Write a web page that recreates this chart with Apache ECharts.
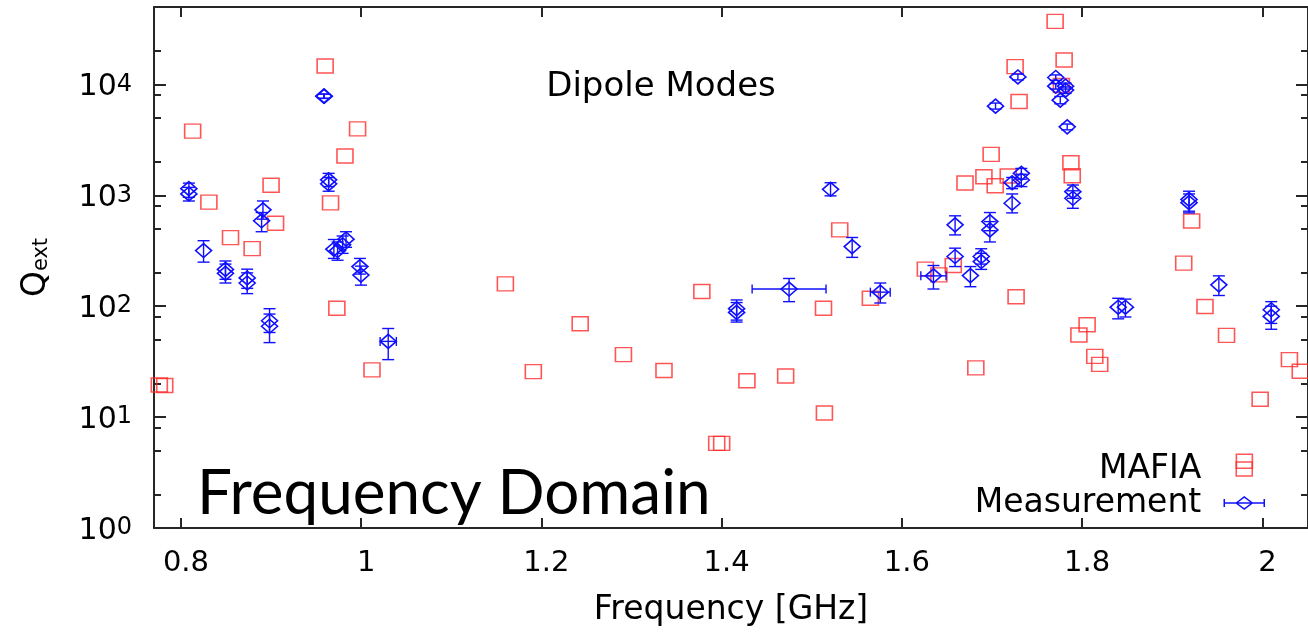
<!DOCTYPE html>
<html>
<head>
<meta charset="utf-8">
<script src="https://cdn.jsdelivr.net/npm/echarts@6/dist/echarts.min.js"></script>
<style>
html,body{margin:0;padding:0;background:#fff;}
#chart{width:1308px;height:632px;}
</style>
</head>
<body>
<div id="chart"></div>
<script>
// ---------------- DATA ----------------
const mafiaFreq = [0.776, 0.782, 0.813, 0.831, 0.855, 0.879, 0.900, 0.905, 0.960, 0.966, 0.973, 0.982, 0.996, 1.012,
  1.160, 1.191, 1.243, 1.291, 1.336, 1.378, 1.3945, 1.400, 1.428, 1.471, 1.513, 1.514, 1.531, 1.565,
  1.626, 1.641, 1.657, 1.670, 1.682, 1.691, 1.699, 1.7035, 1.718, 1.7256, 1.7267, 1.730, 1.770, 1.777, 1.780,
  1.7875, 1.789, 1.7964, 1.8055, 1.814, 1.8195, 1.9127, 1.9215, 1.9363, 1.9602, 1.980, 1.9975, 2.030, 2.042];
const mafiaQ = [19.5, 19.3, 3800, 870, 416, 331, 1233, 561, 14700, 855, 96, 2263, 3980, 26.7,
  159, 25.7, 69.6, 36.6, 26.3, 136, 5.8, 5.8, 21.3, 23.5, 96, 10.9, 488, 118,
  216, 192, 233, 1294, 27.8, 1473, 2344, 1222, 1496, 14500, 122, 7030, 37100, 9800, 16650,
  1968, 1504, 55, 68.2, 35.3, 29.9, 245, 588, 99.6, 54.6, 4.0, 14.5, 33, 25.9];

const measFreq = [0.8088, 0.8088, 0.8251, 0.8494, 0.8494, 0.8735, 0.8735, 0.891, 0.8895, 0.8983, 0.8983,
  0.9585, 0.9591, 0.9639, 0.9639, 0.9697, 0.9738, 0.9794, 0.9832, 0.9986, 0.9997, 1.030,
  1.4166, 1.4166, 1.4748, 1.5208, 1.5448, 1.576, 1.635, 1.659, 1.659, 1.676, 1.688, 1.688,
  1.6976, 1.6976, 1.7039, 1.7223, 1.7223, 1.7325, 1.7325, 1.7287, 1.7707, 1.7707, 1.7816, 1.7816,
  1.7757, 1.7834, 1.7897, 1.7897, 1.840, 1.848, 1.9186, 1.9186, 1.9517, 2.0098, 2.0098];
const measQ = [1150, 1030, 318, 215, 198, 180, 162, 740, 590, 74, 66,
  7850, 7850, 1380, 1270, 327, 318, 358, 403, 228, 191, 48.2,
  95, 88, 143, 1135, 345, 134, 188, 542, 281, 189, 281, 253,
  580, 488, 6380, 849, 1301, 1580, 1376, 11700, 11560, 9660, 9660, 8900,
  7220, 4150, 1080, 942, 98, 98, 920, 860, 156, 93, 81];
const measQlo = [960, 890, 250, 175, 162, 145, 130, 610, 470, 58, 47,
  7500, 7500, 1200, 1090, 270, 260, 300, 340, 195, 155, 33,
  75, 72, 110, 990, 276, 107, 143, 440, 228, 150, 240, 215,
  480, 380, 6000, 695, 1150, 1400, 1200, 11000, 10900, 9100, 9100, 8300,
  6700, 3900, 940, 765, 77, 80, 720, 695, 125, 70, 62];
const measQhi = [1290, 1180, 390, 256, 240, 216, 200, 890, 700, 95, 85,
  8200, 8200, 1580, 1450, 400, 380, 430, 470, 270, 230, 63,
  114, 108, 178, 1300, 417, 162, 233, 654, 334, 228, 330, 300,
  700, 580, 6800, 1030, 1450, 1750, 1550, 12400, 12200, 10200, 10300, 9500,
  7800, 4400, 1240, 1100, 118, 116, 1090, 1030, 188, 110, 100];
const measFerr = [0, 0, 0, 0, 0, 0, 0, 0, 0, 0, 0,
  0, 0, 0, 0, 0, 0, 0, 0, 0, 0, 0.009,
  0, 0, 0.041, 0, 0, 0.011, 0.014, 0, 0, 0, 0, 0,
  0, 0, 0, 0, 0, 0, 0, 0, 0, 0, 0, 0,
  0, 0, 0, 0, 0, 0, 0, 0, 0, 0, 0];

const xTickValues = [0.8, 1.0, 1.2, 1.4, 1.6, 1.8, 2.0];
const xTickLabels = ['0.8', '1', '1.2', '1.4', '1.6', '1.8', '2'];
const yDecades = [0, 1, 2, 3, 4];
const yMinorMantissas = [2, 5, 8];

// ---------------- SETUP ----------------
const RED = '#ff2a2a';
const BLUE = '#1010ff';
const FONT = 'DejaVu Sans';
const X_MIN = 0.7701, X_MAX = 2.0506;
const Y_MIN = 1, Y_MAX = 5e4;
const LOG_MAX = Math.log10(Y_MAX);

const yMinorLogs = [];
yDecades.forEach(d => yMinorMantissas.forEach(m => {
  const v = d + Math.log10(m);
  if (v < LOG_MAX - 0.01) yMinorLogs.push(v);
}));

const mafiaData = mafiaFreq.map((f, i) => [f, mafiaQ[i]]);
const measData = measFreq.map((f, i) => [f, measQ[i], measQlo[i], measQhi[i], f - measFerr[i], f + measFerr[i]]);

const AXIS_COLOR = '#262626';

function frameY(position, len, values, showLine, labels) {
  return {
    type: 'value', position: position, min: 0, max: LOG_MAX,
    gridIndex: 0,
    axisLine: { show: showLine, lineStyle: { color: AXIS_COLOR, width: 2 } },
    axisTick: { show: true, inside: true, length: len, customValues: values,
      lineStyle: { color: AXIS_COLOR, width: 2 } },
    axisLabel: labels ? {
      show: true, customValues: values, margin: 22,
      padding: [6, 0, 0, 0],
      formatter: v => '{b|10}{s|' + Math.round(v) + '}',
      rich: {
        b: { fontFamily: FONT, fontSize: 30, color: '#000', lineHeight: 30 },
        s: { fontFamily: FONT, fontSize: 24, color: '#000', lineHeight: 14, verticalAlign: 'top' }
      }
    } : { show: false },
    splitLine: { show: false }
  };
}

const chart = echarts.init(document.getElementById('chart'), null, { renderer: 'canvas' });

const option = {
  animation: false,
  backgroundColor: '#fff',
  grid: { left: 154, top: 7, right: -3, bottom: 103.3, containLabel: false },
  xAxis: [
    {
      type: 'value', position: 'bottom', min: X_MIN, max: X_MAX,
      axisLine: { show: true, onZero: false, lineStyle: { color: AXIS_COLOR, width: 2 } },
      axisTick: { show: true, inside: true, length: 10, customValues: xTickValues,
        lineStyle: { color: AXIS_COLOR, width: 2 } },
      axisLabel: { show: true, customValues: xTickValues, margin: 21, padding: [0, 0, 0, 10],
        fontFamily: FONT, fontSize: 29, color: '#000',
        formatter: v => { const i = xTickValues.findIndex(t => Math.abs(t - v) < 1e-6); return i >= 0 ? xTickLabels[i] : ''; } },
      splitLine: { show: false },
      name: 'Frequency [GHz]', nameLocation: 'middle', nameGap: 66,
      nameTextStyle: { fontFamily: FONT, fontSize: 33, color: '#000' }
    },
    {
      type: 'value', position: 'top', min: X_MIN, max: X_MAX,
      axisLine: { show: true, onZero: false, lineStyle: { color: AXIS_COLOR, width: 2 } },
      axisTick: { show: true, inside: true, length: 10, customValues: xTickValues,
        lineStyle: { color: AXIS_COLOR, width: 2 } },
      axisLabel: { show: false },
      splitLine: { show: false }
    }
  ],
  yAxis: [
    { type: 'log', min: Y_MIN, max: Y_MAX, logBase: 10, show: false },
    Object.assign(frameY('left', 12, yDecades, true, true), {
      name: '{q|Q}{e|ext}', nameLocation: 'middle', nameRotate: 90, nameGap: 102,
      nameTextStyle: { rich: {
        q: { fontFamily: FONT, fontSize: 33, color: '#000', lineHeight: 32 },
        e: { fontFamily: FONT, fontSize: 21, color: '#000', lineHeight: 14, verticalAlign: 'bottom' }
      } }
    }),
    frameY('left', 7, yMinorLogs, false, false),
    frameY('right', 12, yDecades, true, false),
    frameY('right', 7, yMinorLogs, false, false)
  ],
  legend: {
    orient: 'vertical', right: 43, top: 452, padding: 0, itemGap: 0,
    itemWidth: 40, itemHeight: 14, align: 'right',
    selectedMode: false,
    textStyle: { fontFamily: FONT, fontSize: 33, color: '#000', lineHeight: 34, padding: [0, 18, 0, 0] },
    data: [
      { name: 'MAFIA', icon: 'path://M0,0M40,14M12,0L28,0L28,14L12,14Z',
        itemStyle: { color: 'rgba(0,0,0,0)', borderColor: RED, borderWidth: 1.5 } },
      { name: 'Measurement', icon: 'path://M0,0M40,14M0,7L40,7M0,3L0,11M40,3L40,11M12,7L20,1L28,7L20,13Z',
        itemStyle: { color: 'rgba(0,0,0,0)', borderColor: BLUE, borderWidth: 1.5 } }
    ]
  },
  graphic: [
    { type: 'text', x: 661, y: 87, silent: true,
      style: { text: 'Dipole Modes', fill: '#000', font: '34px "DejaVu Sans"', align: 'center', verticalAlign: 'middle' } },
    { type: 'text', x: 197, y: 494, silent: true,
      style: { text: 'Frequency Domain', fill: '#000', font: '62px Lato', align: 'left', verticalAlign: 'middle' } }
  ],
  series: [
    {
      name: 'MAFIA', type: 'scatter', xAxisIndex: 0, yAxisIndex: 0,
      symbol: 'rect', symbolSize: [16, 14],
      itemStyle: { color: 'rgba(0,0,0,0)', borderColor: RED, borderWidth: 1.5 },
      emphasis: { disabled: true },
      data: mafiaData, z: 3
    },
    {
      name: 'Measurement', type: 'custom', xAxisIndex: 0, yAxisIndex: 0,
      clip: true, z: 4,
      itemStyle: { color: BLUE, borderColor: BLUE },
      encode: { x: 0, y: 1 },
      data: measData,
      renderItem: function (params, api) {
        const x = api.value(0), y = api.value(1), lo = api.value(2), hi = api.value(3);
        const xl = api.value(4), xh = api.value(5);
        const c = api.coord([x, y]);
        const pLo = api.coord([x, lo]);
        const pHi = api.coord([x, hi]);
        const CAP = 6;
        const ch = [];
        const ln = (x1, y1, x2, y2) => ch.push({ type: 'line', shape: { x1, y1, x2, y2 },
          style: { stroke: BLUE, lineWidth: 1.4, fill: null } });
        ln(c[0], pLo[1], c[0], pHi[1]);
        ln(c[0] - CAP, pLo[1], c[0] + CAP, pLo[1]);
        ln(c[0] - CAP, pHi[1], c[0] + CAP, pHi[1]);
        if (xh - xl > 1e-9) {
          const a = api.coord([xl, y]), b = api.coord([xh, y]);
          ln(a[0], c[1], b[0], c[1]);
          ln(a[0], c[1] - 4.5, a[0], c[1] + 4.5);
          ln(b[0], c[1] - 4.5, b[0], c[1] + 4.5);
        }
        ch.push({ type: 'polygon', shape: { points: [[c[0] - 8, c[1]], [c[0], c[1] - 7], [c[0] + 8, c[1]], [c[0], c[1] + 7]] },
          style: { stroke: BLUE, lineWidth: 1.6, fill: null } });
        return { type: 'group', children: ch };
      }
    }
  ]
};
chart.setOption(option);
</script>
</body>
</html>
